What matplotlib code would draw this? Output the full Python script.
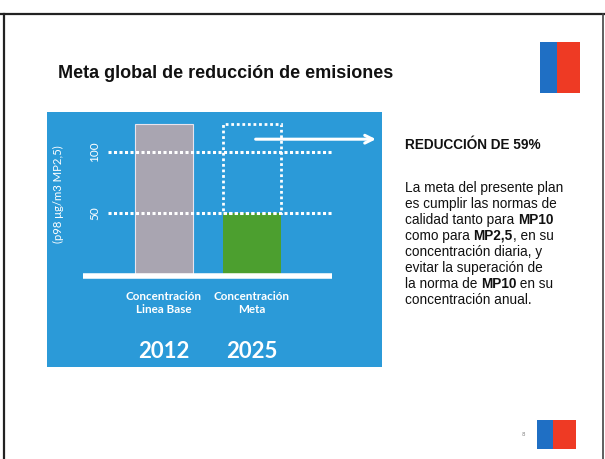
import matplotlib
matplotlib.use('agg')
import matplotlib.pyplot as plt
from matplotlib.patches import Rectangle
from matplotlib.transforms import blended_transform_factory

# data
categories = ['Concentración\nLinea Base', 'Concentración\nMeta']
years = ['2012', '2025']
values = [123, 50]
bar_colors = ['#a9a5b1', '#4c9f2f']
ref_lines = [50, 100]
ylabel = '(p98 μg/m3 MP2,5)'

title = 'Meta global de reducción de emisiones'
headline = 'REDUCCIÓN DE 59%'
body_lines = [
    [('La meta del presente plan', False)],
    [('es cumplir las normas de', False)],
    [('calidad tanto para ', False), ('MP10', True)],
    [('como para ', False), ('MP2,5', True), (', en su', False)],
    [('concentración diaria, y', False)],
    [('evitar la superación de', False)],
    [('la norma de ', False), ('MP10', True), (' en su', False)],
    [('concentración anual.', False)],
]

W, H = 605, 459
fig = plt.figure(figsize=(W / 100, H / 100), dpi=100)

# page layer in pixel coordinates
page = fig.add_axes([0, 0, 1, 1])
page.set_xlim(0, W)
page.set_ylim(H, 0)
page.axis('off')

page.plot([0, W], [14, 14], color='#222222', lw=1.6)
page.plot([4, 4], [14, H], color='#222222', lw=1.6)
page.plot([603, 603], [14, H], color='#444444', lw=1.2)

page.text(58, 73, title, fontsize=13, fontweight='bold', family='Liberation Sans',
          color='#111111', va='center', ha='left')

# flags
page.add_patch(Rectangle((540, 42), 17, 51, color='#1f6fc4', lw=0))
page.add_patch(Rectangle((557, 42), 23, 51, color='#ee3a24', lw=0))
page.add_patch(Rectangle((537, 420), 16, 29, color='#1f6fc4', lw=0))
page.add_patch(Rectangle((553, 420), 23, 29, color='#ee3a24', lw=0))
page.text(523, 434, '8', fontsize=4, color='#888888', ha='center', va='center')

page.text(405, 145, headline, fontsize=9.8, fontweight='bold', family='Liberation Sans',
          color='#111111', va='center', ha='left')

fig.canvas.draw()
renderer = fig.canvas.get_renderer()
y = 188
for runs in body_lines:
    x = 405
    for txt, bold in runs:
        t = page.text(x, y, txt, fontsize=9.8, family='Liberation Sans',
                      fontweight='bold' if bold else 'normal', color='#111111',
                      va='center', ha='left')
        bb = t.get_window_extent(renderer)
        x += bb.width
    y += 16

# chart panel
left, right, top, bottom = 47, 382, 112, 367
ax = fig.add_axes([left / W, 1 - bottom / H, (right - left) / W, (bottom - top) / H])
ax.set_facecolor('#2b9ad8')
px_per_unit = 61 / 50
zero_y = 274
ax.set_ylim(-(bottom - zero_y) / px_per_unit, (zero_y - top) / px_per_unit)
xc0, step = 164, 88
ax.set_xlim(-(xc0 - left) / step, (right - xc0) / step)
for s in ax.spines.values():
    s.set_visible(False)
ax.set_xticks([])
ax.set_yticks(ref_lines)
ax.tick_params(axis='y', length=0, pad=-38.5, labelsize=8.5, labelcolor='white',
               labelrotation=90)
for lab in ax.get_yticklabels():
    lab.set_family('Lato')
    lab.set_va('center')

xs = list(range(len(categories)))
ax.bar(xs[0], values[0], width=0.66, color=bar_colors[0], edgecolor='#e8e4ee',
       lw=0.8, zorder=2)
ax.bar(xs[1], values[1], width=0.66, color=bar_colors[1], lw=0, zorder=2)
# dashed outline of the baseline value above the goal
ax.bar(xs[1], values[0] - values[1], bottom=values[1], width=0.66, fill=False,
       edgecolor='white', lw=2, ls=(0, (1, 1)), zorder=3)

for v in ref_lines:
    ax.hlines(v, -0.64, 1.92, colors='white', lw=2.2, linestyles=(0, (1, 0.8)), zorder=4)

ax.hlines(-2, -0.92, 1.91, colors='white', lw=4, zorder=4)

ax.annotate('', xy=(2.44, 110.5), xytext=(1.01, 110.5),
            arrowprops=dict(arrowstyle='->', color='white', lw=2.2,
                            mutation_scale=14), zorder=5)

trans = blended_transform_factory(ax.transData, ax.transAxes)
for i, (c, yr) in enumerate(zip(categories, years)):
    ax.text(xs[i], (bottom - 303) / (bottom - top), c, transform=trans, ha='center',
            va='center', fontsize=8.4, color='white', family='Lato',
            fontweight='bold', linespacing=1.3)
    ax.text(xs[i], (bottom - 352) / (bottom - top), yr, transform=trans, ha='center',
            va='center', fontsize=16, color='white', family='Lato', fontweight='bold')

ax.text(11 / (right - left), (bottom - 194) / (bottom - top), ylabel,
        transform=ax.transAxes, rotation=90, ha='center', va='center',
        fontsize=8.2, color='white', family='Lato')

fig.savefig('out.png', dpi=100)
